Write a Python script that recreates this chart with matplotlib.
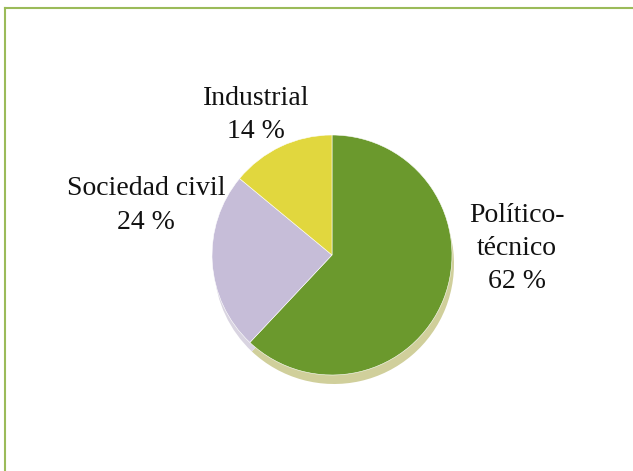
import matplotlib
matplotlib.use("Agg")
import matplotlib.pyplot as plt
from matplotlib.lines import Line2D

categories = ["Político-técnico", "Sociedad civil", "Industrial"]
values = [62, 24, 14]
label_lines = [["Político-", "técnico", "62 %"],
               ["Sociedad civil", "24 %"],
               ["Industrial", "14 %"]]

colors = ["#6B992D", "#C6BDD8", "#E1D73E"]
shadow_colors = ["#D0CF9B", "#D9D4E1", "#E8E3A8"]

W, H = 633, 471
fig = plt.figure(figsize=(W / 100, H / 100), dpi=100)
ax = fig.add_axes([0, 0, 1, 1])
ax.set_xlim(0, W)
ax.set_ylim(0, H)
ax.set_aspect("equal")
ax.axis("off")

cx, cy, r = 332, H - 255, 120

# shadow
ax.pie(values, colors=shadow_colors, startangle=90, counterclock=False,
       center=(cx + 2, cy - 9), radius=r, frame=True,
       wedgeprops=dict(linewidth=0))
# main pie
ax.pie(values, colors=colors, startangle=90, counterclock=False,
       center=(cx, cy), radius=r, frame=True,
       wedgeprops=dict(linewidth=0.4, edgecolor="#FFFFFF"))
ax.set_xlim(0, W)
ax.set_ylim(0, H)
ax.axis("off")

font = dict(family="Liberation Serif", fontsize=20, color="#111111",
            ha="center", va="baseline")
label_pos = [(517, [222, 255, 288]), (146, [195, 229]), (256, [105, 138])]
for lines, (x, ys) in zip(label_lines, label_pos):
    for t, y in zip(lines, ys):
        ax.text(x, H - y, t, **font)

# frame border (light green)
fig.add_artist(Line2D([5 / W, 1.0], [1 - 8 / H, 1 - 8 / H],
                      transform=fig.transFigure, color="#9BBB59", lw=1.5))
fig.add_artist(Line2D([5 / W, 5 / W], [1 - 8 / H, 0.0],
                      transform=fig.transFigure, color="#9BBB59", lw=1.5))

fig.savefig("out.png", dpi=100)
